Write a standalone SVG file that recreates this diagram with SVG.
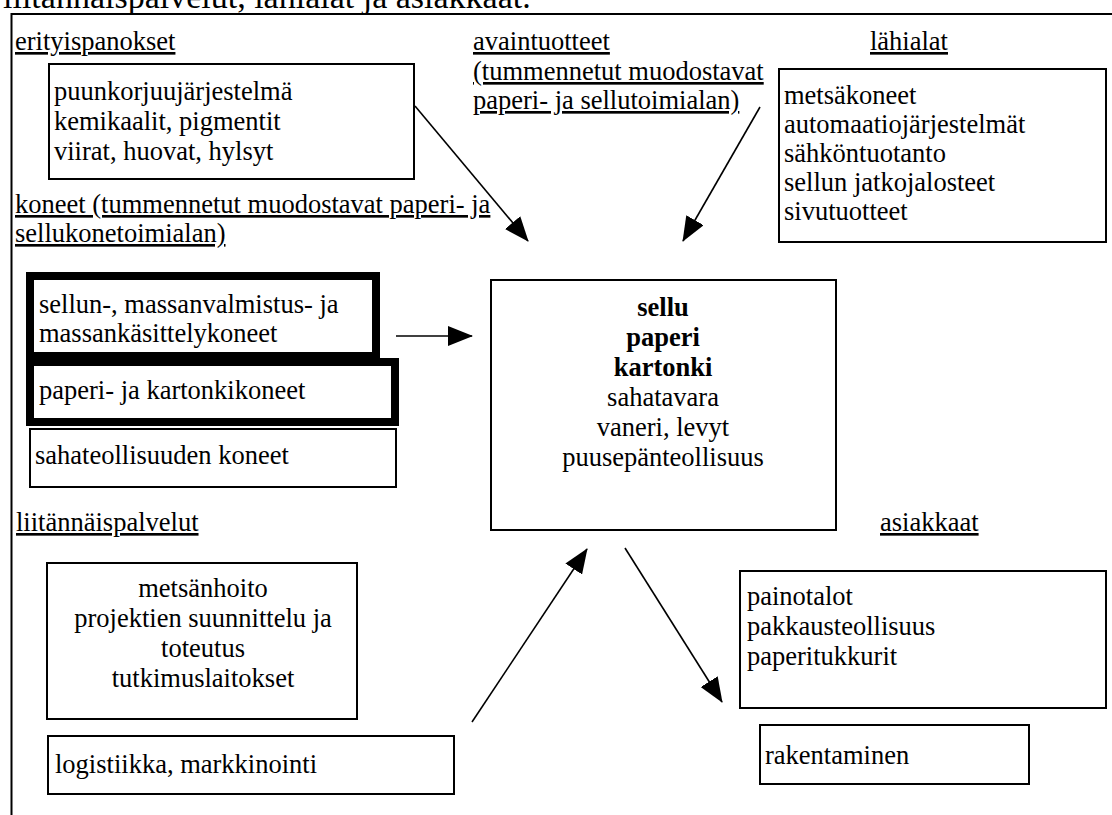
<svg xmlns="http://www.w3.org/2000/svg" width="1112" height="815" viewBox="0 0 1112 815">
  <style>
    text { font-family: "Liberation Serif", "Times New Roman", serif; font-size: 26.5px; fill: #000; }
    .u { text-decoration: underline; }
    .b { font-weight: bold; }
    .mid { text-anchor: middle; }
    .box { fill: #fff; stroke: #000; stroke-width: 2; }
    .thick { fill: #fff; stroke: #000; stroke-width: 8; }
    .conn line { stroke: #000; stroke-width: 1.6; marker-end: url(#head); }
  </style>
  <defs>
    <marker id="head" viewBox="0 0 25 20" refX="24" refY="10" markerWidth="25" markerHeight="20" markerUnits="userSpaceOnUse" orient="auto">
      <path d="M0,0 L25,10 L0,20 Z" fill="#000"/>
    </marker>
  </defs>

  <rect width="1112" height="815" fill="#fff"/>

  <!-- heading line cut at the top edge -->
  <text x="3" y="8" style="font-size:34px">liitännäispalvelut, lähialat ja asiakkaat.</text>

  <!-- outer frame: left and top edges -->
  <path d="M11.5,815 V14 H1112" fill="none" stroke="#000" stroke-width="2"/>

  <!-- section headings -->
  <g id="headings">
    <text class="u" x="15" y="50">erityispanokset</text>
    <text class="u" x="473" y="50">avaintuotteet</text>
    <text class="u" x="473" y="80">(tummennetut muodostavat</text>
    <text class="u" x="473" y="109">paperi- ja sellutoimialan)</text>
    <text class="u" x="870" y="50">lähialat</text>
    <text class="u" x="15" y="213">koneet (tummennetut muodostavat paperi- ja</text>
    <text class="u" x="15" y="242">sellukonetoimialan)</text>
    <text class="u" x="16" y="531">liitännäispalvelut</text>
    <text class="u" x="880" y="531">asiakkaat</text>
  </g>

  <g id="erityispanokset">
    <rect class="box" x="49" y="64" width="365" height="115"/>
    <text x="54" y="100">puunkorjuujärjestelmä</text>
    <text x="54" y="130">kemikaalit, pigmentit</text>
    <text x="54" y="160">viirat, huovat, hylsyt</text>
  </g>

  <g id="lahialat">
    <rect class="box" x="779" y="69" width="327" height="173"/>
    <text x="784" y="104">metsäkoneet</text>
    <text x="784" y="133">automaatiojärjestelmät</text>
    <text x="784" y="162">sähköntuotanto</text>
    <text x="784" y="191">sellun jatkojalosteet</text>
    <text x="784" y="220">sivutuotteet</text>
  </g>

  <g id="sellukoneet">
    <rect class="thick" x="30" y="276" width="346" height="80"/>
    <text x="39" y="313">sellun-, massanvalmistus- ja</text>
    <text x="39" y="342">massankäsittelykoneet</text>
  </g>

  <g id="paperikoneet">
    <rect class="thick" x="30" y="362" width="365" height="60"/>
    <text x="39" y="399">paperi- ja kartonkikoneet</text>
  </g>

  <g id="sahakoneet">
    <rect class="box" x="30" y="429" width="366" height="58"/>
    <text x="35" y="464">sahateollisuuden koneet</text>
  </g>

  <g id="avaintuotteet">
    <rect class="box" x="491" y="280" width="345" height="250"/>
    <text class="mid b" x="663" y="316">sellu</text>
    <text class="mid b" x="663" y="346">paperi</text>
    <text class="mid b" x="663" y="376">kartonki</text>
    <text class="mid" x="663" y="406">sahatavara</text>
    <text class="mid" x="663" y="436">vaneri, levyt</text>
    <text class="mid" x="663" y="466">puusepänteollisuus</text>
  </g>

  <g id="palvelut">
    <rect class="box" x="47" y="563" width="310" height="156"/>
    <text class="mid" x="203" y="597">metsänhoito</text>
    <text class="mid" x="203" y="627">projektien suunnittelu ja</text>
    <text class="mid" x="203" y="657">toteutus</text>
    <text class="mid" x="203" y="687">tutkimuslaitokset</text>
  </g>

  <g id="logistiikka">
    <rect class="box" x="48" y="736" width="406" height="58"/>
    <text x="55" y="773">logistiikka, markkinointi</text>
  </g>

  <g id="asiakkaat">
    <rect class="box" x="740" y="571" width="366" height="137"/>
    <text x="747" y="605">painotalot</text>
    <text x="747" y="635">pakkausteollisuus</text>
    <text x="747" y="665">paperitukkurit</text>
  </g>

  <g id="rakentaminen">
    <rect class="box" x="760" y="725" width="269" height="59"/>
    <text x="765" y="764">rakentaminen</text>
  </g>

  <g id="connectors" class="conn">
    <line x1="415" y1="106" x2="528" y2="241"/>
    <line x1="760" y1="107" x2="683" y2="241"/>
    <line x1="396" y1="336" x2="472" y2="336"/>
    <line x1="472" y1="722" x2="587" y2="549"/>
    <line x1="625" y1="548" x2="722" y2="702"/>
  </g>
</svg>
